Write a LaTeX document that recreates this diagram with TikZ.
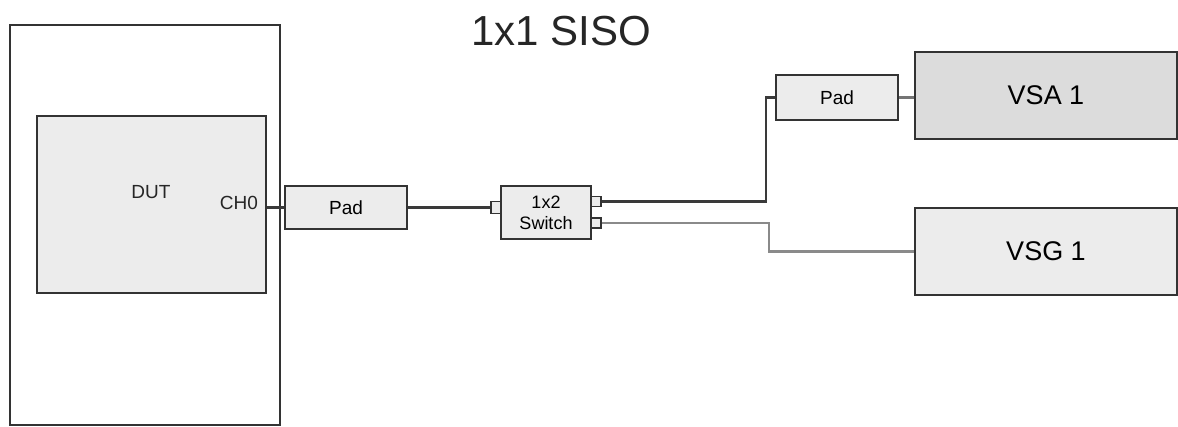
\documentclass[tikz,border=0pt]{standalone}
\usepackage{fontspec}
\setmainfont{Liberation Sans}
\definecolor{edge}{HTML}{333333}
\definecolor{fillA}{HTML}{ECECEC}
\definecolor{fillB}{HTML}{DCDCDC}
\definecolor{wireD}{HTML}{3A3A3A}
\definecolor{wireL}{HTML}{8A8A8A}
\begin{document}
\begin{tikzpicture}[x=1pt,y=-1pt,
  blk/.style={draw=edge,line width=1.5pt,rectangle,inner sep=0pt,fill=fillA},
  port/.style={draw=edge,line width=1.2pt,rectangle,inner sep=0pt,fill=fillA,minimum width=10pt,minimum height=10pt},
  lbl/.style={inner sep=0pt,text=black!85},
  darkwire/.style={draw=wireD,line width=2.8pt},
  lightwire/.style={draw=wireL,line width=2.6pt}]
\useasboundingbox (0,0) rectangle (1178,426);
\fill[white] (0,0) rectangle (1178,426);
% title
\node[lbl,font=\fontsize{42}{42}\selectfont] (title) at (561,31) {1x1 SISO};
% outer enclosure
\node[blk,fill=white,minimum width=270pt,minimum height=400pt] (outer) at (145,225) {};
% DUT
\node[blk,minimum width=229pt,minimum height=177pt] (dut) at (151.5,204.5) {};
\node[lbl,font=\fontsize{19}{19}\selectfont] (dutlbl) at (151,192) {DUT};
\node[lbl,font=\fontsize{19}{19}\selectfont] (ch0) at (239,203) {CH0};
% pads and switch
\node[blk,minimum width=122pt,minimum height=43pt,font=\fontsize{19}{19}\selectfont] (pad1) at (346,207.5) {Pad};
\node[blk,minimum width=90pt,minimum height=53pt,align=center,font=\fontsize{18}{21}\selectfont] (sw) at (546,212.5) {1x2\\Switch};
\node[port,minimum height=12pt] (swin) at (496,207.5) {};
\node[port] (swa) at (596,201.5) {};
\node[port] (swb) at (596,223) {};
\node[blk,minimum width=122pt,minimum height=45pt,font=\fontsize{19}{19}\selectfont] (pad2) at (837,97.5) {Pad};
% instruments
\node[blk,fill=fillB,minimum width=262pt,minimum height=87pt,font=\fontsize{27}{27}\selectfont] (vsa) at (1046,95.5) {VSA 1};
\node[blk,minimum width=262pt,minimum height=87pt,font=\fontsize{27}{27}\selectfont] (vsg) at (1046,251.5) {VSG 1};
% connectors
\coordinate (bendA) at (766,0);
\coordinate (bendB) at (769,0);
\draw[darkwire] (pad1.west -| dut.east) -- (pad1.west);
\draw[darkwire] (pad1.east) -- (swin.west);
\draw[darkwire] (swa.east) -- (swa.east -| bendA) -- (bendA |- pad2.west) -- (pad2.west);
\draw[lightwire,draw=wireL!85!black] (pad2.east) -- (pad2.east -| vsa.west);
\draw[lightwire] (swb.east) -- (swb.east -| bendB) -- (bendB |- vsg.west) -- (vsg.west);
\end{tikzpicture}
\end{document}
